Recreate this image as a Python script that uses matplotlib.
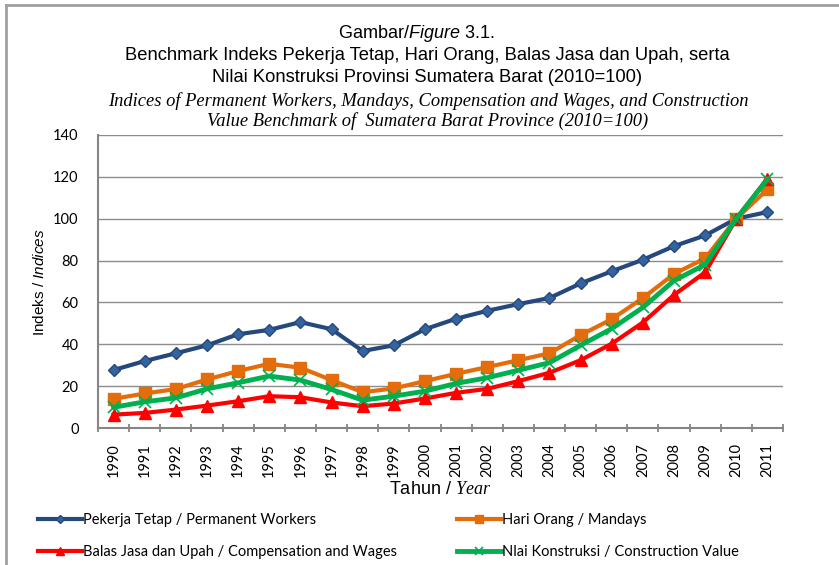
import numpy as np
import matplotlib
matplotlib.use("Agg")
import matplotlib.pyplot as plt
from matplotlib.lines import Line2D

plt.rcParams['mathtext.fontset'] = 'custom'
plt.rcParams['mathtext.rm'] = 'Liberation Sans'
plt.rcParams['mathtext.it'] = 'Liberation Sans:italic'
plt.rcParams['mathtext.cal'] = 'Liberation Serif:italic'

# data
tahun = [str(t) for t in range(1990, 2012)]
pekerja_tetap = [27.7, 32.0, 35.7, 39.5, 44.8, 46.9, 50.6, 47.2, 36.8, 39.5, 47.2,
                 52.2, 56.0, 59.2, 62.1, 69.1, 74.9, 80.4, 86.9, 92.0, 100.0, 103.2]
hari_orang = [13.9, 16.5, 18.6, 23.2, 27.2, 30.7, 28.8, 22.9, 17.1, 18.9, 22.4,
              25.9, 29.1, 32.4, 35.7, 44.4, 52.0, 62.1, 73.6, 81.1, 100.0, 114.0]
balas_jasa = [6.4, 7.2, 8.8, 10.7, 12.8, 15.2, 14.7, 12.2, 10.4, 11.7, 14.1,
              16.8, 18.7, 22.4, 26.4, 32.4, 40.3, 50.4, 63.6, 74.4, 100.0, 119.2]
nilai_konstruksi = [9.9, 12.5, 14.4, 18.7, 21.6, 24.8, 22.9, 18.4, 13.3, 15.2, 17.6,
                    21.3, 24.0, 27.6, 31.2, 39.5, 47.5, 57.6, 70.4, 78.1, 100.0, 118.8]

label_pekerja = "Pekerja Tetap / Permanent Workers"
label_hari = "Hari Orang / Mandays"
label_balas = "Balas Jasa dan Upah / Compensation and Wages"
label_nilai = "Nlai Konstruksi / Construction Value"

fig = plt.figure(figsize=(8.39, 5.65), dpi=100)
ax = fig.add_axes([98/839, 1-428/565, (783-98)/839, (428-135)/565])

x = np.arange(len(tahun))
h1, = ax.plot(x, pekerja_tetap, color="#25497D", lw=3, marker="D", ms=6,
              markerfacecolor="#3563A0", markeredgecolor="#25497D", label=label_pekerja)
h2, = ax.plot(x, hari_orang, color="#E46C0A", lw=3, marker="s", ms=9, label=label_hari)
h3, = ax.plot(x, balas_jasa, color="#FF0000", lw=3, marker="^", ms=9, label=label_balas)
h4, = ax.plot(x, nilai_konstruksi, color="#00B050", lw=3.5, marker="x", ms=8,
              mew=1.2, markeredgecolor="#00B050", label=label_nilai)

ax.set_xlim(-0.5, len(tahun) - 0.5)
ax.set_ylim(0, 140)
ax.set_yticks(np.arange(0, 141, 20))
ax.tick_params(axis="y", length=0, pad=14, labelsize=10.5)
ax.set_xticks(x)
ax.set_xticklabels(tahun, rotation=90, fontsize=10.5)
ax.set_xticks(np.arange(-0.5, len(tahun), 1), minor=True)
ax.tick_params(axis="x", which="major", length=0, pad=11)
ax.tick_params(axis="x", which="minor", length=6, direction="inout", color="#868686", width=1.3)
for lab in ax.get_xticklabels() + ax.get_yticklabels():
    lab.set_fontfamily("Lato")

ax.grid(axis="y", color="#8C8C8C", lw=1)
ax.set_axisbelow(True)
for s in ["top", "right"]:
    ax.spines[s].set_visible(False)
for s in ["left", "bottom"]:
    ax.spines[s].set_color("#868686")
    ax.spines[s].set_linewidth(1.5)

# titles
fig.text(0.496, 1-33/565, r"Gambar/$\mathit{Figure}$ 3.1.", ha="center", va="center",
         fontsize=13, family="Liberation Sans")
fig.text(0.509, 1-56/565, "Benchmark Indeks Pekerja Tetap, Hari Orang, Balas Jasa dan Upah, serta",
         ha="center", va="center", fontsize=13.2, family="Liberation Sans")
fig.text(0.509, 1-78/565, "Nilai Konstruksi Provinsi Sumatera Barat (2010=100)",
         ha="center", va="center", fontsize=13.2, family="Liberation Sans")
fig.text(0.510, 1-101/565, "Indices of Permanent Workers, Mandays, Compensation and Wages, and Construction",
         ha="center", va="center", fontsize=13.3, family="Liberation Serif", style="italic")
fig.text(0.510, 1-121/565, "Value Benchmark of  Sumatera Barat Province (2010=100)",
         ha="center", va="center", fontsize=13.3, family="Liberation Serif", style="italic")

fig.text(40/839, 1-282/565, r"Indeks / $\mathit{Indices}$", rotation=90, ha="center", va="center",
         fontsize=11, family="Liberation Sans")
fig.text(440/839, 1-489/565, r"Tahun / $\mathcal{Year}$", ha="center", va="center",
         fontsize=13, family="Liberation Sans")

leg_kw = dict(loc="upper left", frameon=False, handlelength=3.0, handletextpad=0.1,
              labelspacing=1.25, prop={"family": "Lato", "size": 10.5}, markerscale=0.7)
leg1 = fig.legend([h1, h3], [label_pekerja, label_balas],
                  bbox_to_anchor=(25/839, 1-500/565), **leg_kw)
leg2 = fig.legend([h2, h4], [label_hari, label_nilai],
                  bbox_to_anchor=(444/839, 1-500/565), **leg_kw)

# outer frame
fig.add_artist(Line2D([6/839, 1], [1-5/565, 1-5/565], transform=fig.transFigure, color="#A0A0A0", lw=2))
fig.add_artist(Line2D([6/839, 6/839], [0, 1-5/565], transform=fig.transFigure, color="#A0A0A0", lw=2))

fig.savefig("out.png", dpi=100)
